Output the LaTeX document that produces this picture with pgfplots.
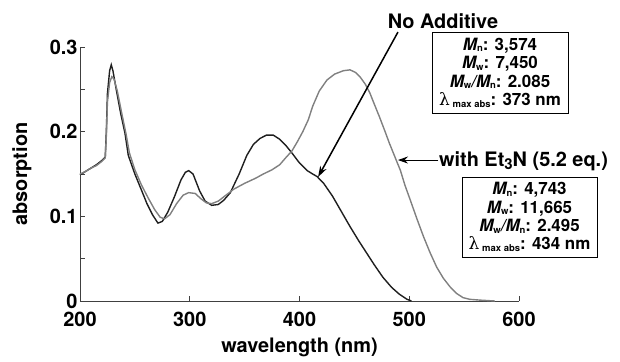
\documentclass[border=0pt]{standalone}
\usepackage{pgfplots}
\pgfplotsset{compat=1.18}
\usepackage{fontspec}
\setmainfont{TeX Gyre Heros}
\newfontfamily\dvs{DejaVu Serif}
\usetikzlibrary{arrows.meta}
\newcommand{\sub}[1]{{\fontsize{9.5}{9.5}\selectfont\raisebox{-0.35ex}{#1}}}
\newcommand{\lam}{{\fontsize{17}{17}\selectfont\dvs\mdseries λ}}
\begin{document}
\begin{tikzpicture}[x=1bp,y=1bp]
\begin{axis}[
 at={(0,0)}, anchor=south west,
 scale only axis, width=439bp, height=254bp,
 xmin=200, xmax=600, ymin=0, ymax=0.3,
 axis x line=bottom, axis y line=left,
 axis line style={-, line width=0.9bp, color=black!75},
 xtick={200,300,...,600}, ytick={0,0.1,0.2,0.3}, minor y tick num=1,
 tick align=inside, major tick length=5bp, minor tick length=5bp,
 tick style={black!75, line width=0.7bp},
 /pgf/number format/assume math mode=true,
 ticklabel style={font=\fontsize{20}{24}\selectfont\bfseries},
 xticklabel style={yshift=-8bp},
 yticklabel style={xshift=1bp},
 clip=false,
]
\addplot[color=black!88, line width=1.4bp] coordinates {
(200,0.149) (205,0.153) (210,0.157) (215,0.161) (220,0.166) (223,0.170)
(224,0.200) (225,0.245) (227,0.272) (228.5,0.279) (230,0.272) (233,0.250)
(237,0.222) (241,0.198) (244,0.172) (250,0.150) (256,0.131) (261,0.115)
(266,0.102) (271,0.092) (275,0.094) (280,0.105) (286,0.123) (292,0.143)
(296,0.152) (299,0.154) (303,0.150) (306,0.140) (309,0.130) (314,0.118)
(320,0.113) (326,0.114) (331,0.119) (337,0.128) (345,0.150) (352,0.172)
(358,0.185) (364,0.192) (370,0.196) (376,0.196) (382,0.191) (388,0.183)
(393,0.175) (400,0.163) (407,0.154) (412,0.150) (416,0.147) (422,0.139)
(430,0.124) (438,0.106) (446,0.088) (454,0.071) (461,0.057) (468,0.043)
(476,0.028) (484,0.016) (491,0.008) (498,0.002) (502,0.000)
};
\addplot[color=black!50, line width=1.4bp] coordinates {
(200,0.150) (205,0.153) (210,0.157) (215,0.160) (220,0.165) (223,0.169)
(224,0.195) (225,0.235) (227,0.258) (229,0.265) (231,0.262) (234,0.248)
(238,0.222) (242,0.197) (245,0.175) (250,0.155) (256,0.137) (262,0.122)
(268,0.108) (273,0.099) (277,0.097) (282,0.102) (288,0.115) (294,0.125)
(299,0.128) (305,0.127) (310,0.121) (315,0.116) (320,0.115) (326,0.118)
(332,0.124) (340,0.132) (350,0.139) (360,0.145) (367,0.150) (375,0.155)
(382,0.161) (388,0.170) (393,0.177) (398,0.188) (403,0.200) (408,0.214)
(412,0.230) (418,0.248) (425,0.261) (432,0.268) (440,0.272) (446,0.273)
(451,0.270) (455,0.265) (460,0.256) (464,0.246) (468,0.233) (473,0.217)
(478,0.200) (482,0.186) (487,0.170) (492,0.154) (496,0.137) (501,0.119)
(507,0.097) (513,0.076) (519,0.057) (525,0.040) (531,0.027) (537,0.017)
(543,0.009) (549,0.004) (555,0.002) (565,0.001) (578,0.000)
};
\node[font=\fontsize{20}{24}\selectfont\bfseries] at ([yshift=-46bp]axis description cs:0.5,0) {wavelength (nm)};
\node[rotate=90, font=\fontsize{20}{24}\selectfont\bfseries] at ([xshift=-58bp]axis description cs:0,0.5) {absorption};
\node[font=\fontsize{20}{24}\selectfont\bfseries] at (axis cs:530.7,0.3306) {No Additive};
\draw[-{Stealth[length=11bp,width=7bp]}, line width=1.5bp] (axis cs:489.7,0.3176) -- (axis cs:416.9,0.1464);
\draw[-{Stealth[length=10bp,width=7bp]}, line width=1bp] (axis cs:526.5,0.1665) -- (axis cs:489.7,0.1665);
\node[anchor=west, inner sep=0pt, font=\fontsize{20}{24}\selectfont\bfseries] at (axis cs:527,0.1655) {with Et\raisebox{-0.3ex}{\fontsize{15}{15}\selectfont 3}N (5.2 eq.)};
\node[draw, line width=0.8bp, align=center, inner sep=2bp, minimum width=136bp, minimum height=81bp,
 font=\fontsize{17}{18.5}\selectfont\bfseries] at (axis cs:582.7,0.2698)
 {{\itshape M}\sub{n}: 3,574\\ {\itshape M}\sub{w}: 7,450\\ {\itshape M}\sub{w}{\itshape /M}\sub{n}: 2.085\\ \lam\,\sub{max abs}: 373 nm};
\node[draw, line width=0.8bp, align=center, inner sep=2bp, minimum width=135bp, minimum height=80bp,
 font=\fontsize{17}{18.5}\selectfont\bfseries] at (axis cs:609.6,0.0992)
 {{\itshape M}\sub{n}: 4,743\\ {\itshape M}\sub{w}: 11,665\\ {\itshape M}\sub{w}{\itshape /M}\sub{n}: 2.495\\ \lam\,\sub{max abs}: 434 nm};
\end{axis}
\useasboundingbox (-80,-60) rectangle (540,301);
\end{tikzpicture}
\end{document}
